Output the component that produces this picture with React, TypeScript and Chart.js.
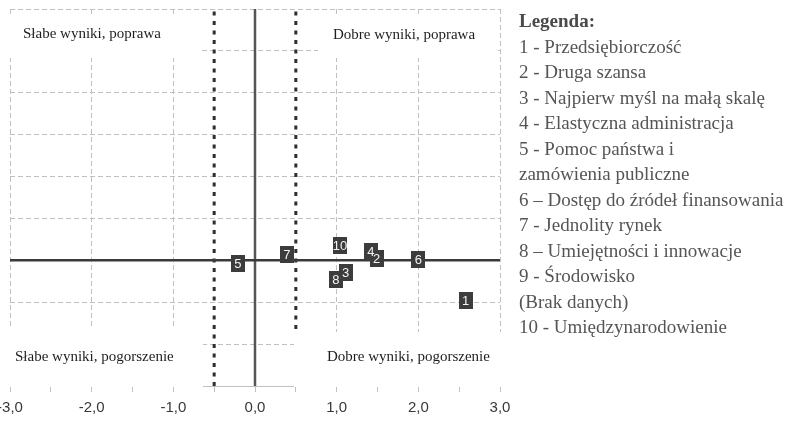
import React, { useEffect, useRef } from 'react';
import { Chart, registerables } from 'chart.js';

Chart.register(...registerables);

// ---- data ----
const itemIds = ['1', '2', '3', '4', '5', '6', '7', '8', '10'];
const xValues = [2.58, 1.49, 1.11, 1.42, -0.21, 2.0, 0.39, 0.99, 1.04];
const yValues = [-0.48, 0.02, -0.15, 0.11, -0.04, 0.01, 0.07, -0.23, 0.18];

const xMin = -3;
const xMax = 3;
const xStep = 0.5;
const yMin = -1.5;
const yMax = 3;
const yStep = 0.5;
const thresholds = [-0.5, 0.5];

const quadrantLabels = [
  'Słabe wyniki, poprawa',
  'Dobre wyniki, poprawa',
  'Słabe wyniki, pogorszenie',
  'Dobre wyniki, pogorszenie',
];

const legendTitle = 'Legenda:';
const legendLines = [
  '1 - Przedsiębiorczość',
  '2 - Druga szansa',
  '3 - Najpierw myśl na małą skalę',
  '4 - Elastyczna administracja',
  '5 - Pomoc państwa i',
  'zamówienia publiczne',
  '6 – Dostęp do źródeł finansowania',
  '7 - Jednolity rynek',
  '8 – Umiejętności i innowacje',
  '9 - Środowisko',
  '(Brak danych)',
  '10 - Umiędzynarodowienie',
];

const isWhole = (v: number) => Math.abs(v - Math.round(v)) < 1e-6;
const fmt = (v: number) => v.toFixed(1).replace('.', ',');

function makeMarker(): HTMLCanvasElement {
  const c = document.createElement('canvas');
  c.width = 14;
  c.height = 17;
  const g = c.getContext('2d')!;
  g.fillStyle = '#3c3c3c';
  g.fillRect(0, 0, 14, 17);
  return c;
}

const quadrantPlugin = {
  id: 'quadrants',
  beforeDatasetDraw(chart: any, args: any) {
    if (args.index !== 2) return;
    const { ctx, chartArea: a } = chart;
    ctx.save();
    ctx.fillStyle = '#ffffff';
    const boxes = [
      [a.left - 10, a.top + 5, 200, 44],
      [a.left + 308, a.top + 5, a.right - 3 - (a.left + 308), 44],
      [a.left - 10, a.bottom - 57, 203, 58],
      [a.left + 284, a.bottom - 54, a.right + 5 - (a.left + 284), 55],
    ];
    boxes.forEach(([x, y, w, h]) => ctx.fillRect(x, y, w, h));
    ctx.fillStyle = '#1e1e1e';
    ctx.font = '15px "Liberation Serif", "Times New Roman", serif';
    ctx.textAlign = 'left';
    ctx.textBaseline = 'middle';
    const pos = [
      [a.left + 13, a.top + 25],
      [a.left + 323, a.top + 26],
      [a.left + 5, a.bottom - 29],
      [a.left + 317, a.bottom - 29],
    ];
    quadrantLabels.forEach((t, i) => ctx.fillText(t, pos[i][0], pos[i][1]));
    ctx.restore();
  },
  afterDatasetsDraw(chart: any) {
    const { ctx } = chart;
    const meta = chart.getDatasetMeta(4);
    ctx.save();
    ctx.fillStyle = '#f4f4f4';
    ctx.font = '13px "Liberation Sans", Arial, sans-serif';
    ctx.textAlign = 'center';
    ctx.textBaseline = 'middle';
    meta.data.forEach((el: any, i: number) => {
      ctx.fillText(itemIds[i], el.x, el.y + 1);
    });
    ctx.restore();
  },
};

export default function App() {
  const ref = useRef<HTMLCanvasElement>(null);

  useEffect(() => {
    if (!ref.current) return;
    const marker = makeMarker();
    const line = (data: any[], color: string, width: number, dash: number[], order: number) => ({
      data,
      showLine: true,
      borderColor: color,
      borderWidth: width,
      borderDash: dash,
      pointRadius: 0,
      pointHoverRadius: 0,
      fill: false,
      order,
    });
    const chart = new Chart(ref.current, {
      type: 'scatter',
      data: {
        datasets: [
          line([{ x: thresholds[0], y: yMin }, { x: thresholds[0], y: yMax }], '#2e2e2e', 3, [4, 5.5], 5),
          line([{ x: thresholds[1], y: yMin }, { x: thresholds[1], y: yMax }], '#2e2e2e', 3, [4, 5.5], 4),
          line([{ x: 0, y: yMin }, { x: 0, y: yMax }], '#555555', 2.5, [], 3),
          line([{ x: xMin, y: 0 }, { x: xMax, y: 0 }], '#3a3a3a', 2.5, [], 2),
          {
            data: xValues.map((x, i) => ({ x, y: yValues[i] })),
            pointStyle: marker,
            pointRadius: 8,
            pointHoverRadius: 8,
            showLine: false,
            order: 1,
          } as any,
        ],
      },
      options: {
        responsive: false,
        animation: false,
        layout: { padding: { left: 20, right: 286, top: 8, bottom: 2 } },
        plugins: { legend: { display: false }, tooltip: { enabled: false } },
        scales: {
          x: {
            type: 'linear',
            min: xMin,
            max: xMax,
            ticks: {
              stepSize: xStep,
              autoSkip: false,
              maxRotation: 0,
              padding: 7,
              color: '#383838',
              font: { family: '"Liberation Sans", Arial, sans-serif', size: 15 },
              callback: (v: any) => (isWhole(Number(v)) ? fmt(Number(v)) : ''),
            },
            grid: {
              color: (c: any) => (c.tick && isWhole(c.tick.value) ? '#c0c0c0' : 'rgba(0,0,0,0)'),
              tickColor: '#c0c0c0',
              tickLength: 6,
              lineWidth: 1,
            },
            border: { display: true, color: '#c0c0c0', width: 1, dash: [5, 3] },
          },
          y: {
            type: 'linear',
            min: yMin,
            max: yMax,
            ticks: { display: false, stepSize: yStep },
            grid: { color: '#c0c0c0', drawTicks: false, lineWidth: 1 },
            border: { display: false, dash: [5, 3] },
          },
        },
      },
      plugins: [quadrantPlugin],
    } as any);
    return () => chart.destroy();
  }, []);

  return (
    <div style={{ position: 'fixed', left: 0, top: 0, width: 786, height: 426, overflow: 'hidden', background: '#fff' }}>
      <canvas ref={ref} width={796} height={426} style={{ position: 'absolute', left: -10, top: 0 }} />
      <div
        style={{
          position: 'absolute',
          left: 519,
          top: 8,
          fontFamily: '"Liberation Serif", "Times New Roman", serif',
          fontSize: 19,
          lineHeight: '25.5px',
          color: '#555',
          whiteSpace: 'nowrap',
        }}
      >
        <div style={{ fontWeight: 'bold', color: '#4a4a4a' }}>{legendTitle}</div>
        {legendLines.map((t, i) => (
          <div key={i}>{t}</div>
        ))}
      </div>
    </div>
  );
}
